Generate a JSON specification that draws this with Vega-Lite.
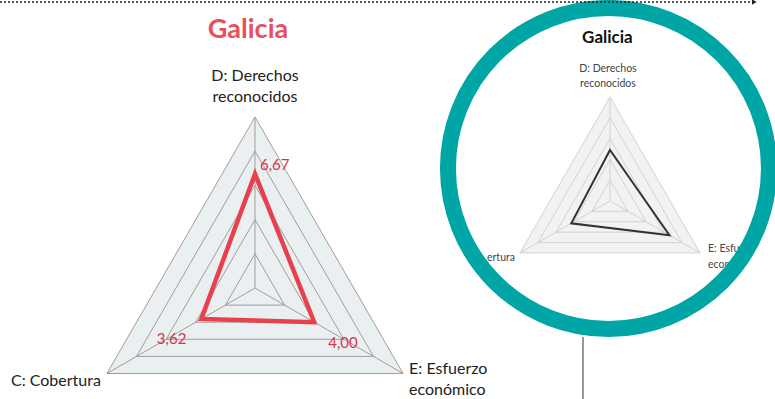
{
  "$schema": "https://vega.github.io/schema/vega-lite/v6.json",
  "width": 775,
  "height": 399,
  "autosize": {"type": "none"},
  "padding": 0,
  "background": "white",
  "config": {"view": {"stroke": null}, "text": {"font": "Lato"}},
  "datasets": {
    "rings": [
      {"chart": "main", "value": 2, "k": 0}, {"chart": "main", "value": 2, "k": 1}, {"chart": "main", "value": 2, "k": 2},
      {"chart": "main", "value": 4, "k": 0}, {"chart": "main", "value": 4, "k": 1}, {"chart": "main", "value": 4, "k": 2},
      {"chart": "main", "value": 6, "k": 0}, {"chart": "main", "value": 6, "k": 1}, {"chart": "main", "value": 6, "k": 2},
      {"chart": "main", "value": 8, "k": 0}, {"chart": "main", "value": 8, "k": 1}, {"chart": "main", "value": 8, "k": 2},
      {"chart": "main", "value": 10, "k": 0}, {"chart": "main", "value": 10, "k": 1}, {"chart": "main", "value": 10, "k": 2},
      {"chart": "small", "value": 2, "k": 0}, {"chart": "small", "value": 2, "k": 1}, {"chart": "small", "value": 2, "k": 2},
      {"chart": "small", "value": 4, "k": 0}, {"chart": "small", "value": 4, "k": 1}, {"chart": "small", "value": 4, "k": 2},
      {"chart": "small", "value": 6, "k": 0}, {"chart": "small", "value": 6, "k": 1}, {"chart": "small", "value": 6, "k": 2},
      {"chart": "small", "value": 8, "k": 0}, {"chart": "small", "value": 8, "k": 1}, {"chart": "small", "value": 8, "k": 2},
      {"chart": "small", "value": 10, "k": 0}, {"chart": "small", "value": 10, "k": 1}, {"chart": "small", "value": 10, "k": 2}
    ],
    "axes": [
      {"chart": "main", "k": 0, "value": 10, "name": "D: Derechos\nreconocidos"},
      {"chart": "main", "k": 1, "value": 10, "name": "E: Esfuerzo\neconómico"},
      {"chart": "main", "k": 2, "value": 10, "name": "C: Cobertura"},
      {"chart": "small", "k": 0, "value": 10, "name": "D: Derechos\nreconocidos"},
      {"chart": "small", "k": 1, "value": 10, "name": "E: Esfu\neconó"},
      {"chart": "small", "k": 2, "value": 10, "name": "ertura"}
    ],
    "scores": [
      {"chart": "main", "axis": "D", "k": 0, "value": 6.67, "label": "6,67"},
      {"chart": "main", "axis": "E", "k": 1, "value": 4.0, "label": "4,00"},
      {"chart": "main", "axis": "C", "k": 2, "value": 3.62, "label": "3,62"},
      {"chart": "small", "axis": "D", "k": 0, "value": 4.9, "label": ""},
      {"chart": "small", "axis": "E", "k": 1, "value": 6.6, "label": ""},
      {"chart": "small", "axis": "C", "k": 2, "value": 4.3, "label": ""}
    ],
    "titles": [
      {"chart": "main", "t": "Galicia"},
      {"chart": "small", "t": "Galicia"}
    ]
  },
  "encoding": {
    "x": {"field": "x", "type": "quantitative", "scale": {"domain": [-14.912, 30.409], "nice": false, "zero": false}, "axis": null},
    "y": {"field": "y", "type": "quantitative", "scale": {"domain": [-6.491, 16.842], "nice": false, "zero": false}, "axis": null}
  },
  "layer": [
    {
      "data": {"name": "rings"},
      "transform": [
        {"filter": "datum.chart == 'main' && datum.value == 10"},
        {"calculate": "datum.value * sin(datum.k * 2 * PI / 3)", "as": "x"},
        {"calculate": "datum.value * cos(datum.k * 2 * PI / 3)", "as": "y"}
      ],
      "mark": {"type": "line", "interpolate": "linear-closed", "fill": "#eaeff1", "stroke": null},
      "encoding": {"order": {"field": "k"}}
    },
    {
      "data": {"name": "rings"},
      "transform": [
        {"filter": "datum.chart == 'small' && datum.value == 10"},
        {"calculate": "20.76 + 0.608 * datum.value * sin(datum.k * 2 * PI / 3)", "as": "x"},
        {"calculate": "5.09 + 0.608 * datum.value * cos(datum.k * 2 * PI / 3)", "as": "y"}
      ],
      "mark": {"type": "line", "interpolate": "linear-closed", "fill": "#f2f2f2", "stroke": null},
      "encoding": {"order": {"field": "k"}}
    },
    {
      "data": {"name": "rings"},
      "transform": [
        {"calculate": "datum.chart == 'main' ? 0 : 20.76", "as": "cx"},
        {"calculate": "datum.chart == 'main' ? 0 : 5.09", "as": "cy"},
        {"calculate": "datum.chart == 'main' ? 1 : 0.608", "as": "s"},
        {"calculate": "datum.cx + datum.s * datum.value * sin(datum.k * 2 * PI / 3)", "as": "x"},
        {"calculate": "datum.cy + datum.s * datum.value * cos(datum.k * 2 * PI / 3)", "as": "y"}
      ],
      "mark": {"type": "line", "interpolate": "linear-closed", "strokeWidth": 1},
      "encoding": {
        "order": {"field": "k"},
        "detail": {"field": "value", "type": "nominal"},
        "color": {"field": "chart", "type": "nominal", "scale": {"domain": ["main", "small"], "range": ["#a59c98", "#d2d2d2"]}, "legend": null}
      }
    },
    {
      "data": {"name": "axes"},
      "transform": [
        {"calculate": "datum.chart == 'main' ? 0 : 20.76", "as": "cx"},
        {"calculate": "datum.chart == 'main' ? 0 : 5.09", "as": "cy"},
        {"calculate": "datum.chart == 'main' ? 1 : 0.608", "as": "s"},
        {"calculate": "datum.cx + datum.s * datum.value * sin(datum.k * 2 * PI / 3)", "as": "x"},
        {"calculate": "datum.cy + datum.s * datum.value * cos(datum.k * 2 * PI / 3)", "as": "y"}
      ],
      "mark": {"type": "rule", "strokeWidth": 1},
      "encoding": {
        "x2": {"field": "cx"},
        "y2": {"field": "cy"},
        "color": {"field": "chart", "type": "nominal", "scale": {"domain": ["main", "small"], "range": ["#a59c98", "#d2d2d2"]}, "legend": null}
      }
    },
    {
      "data": {"name": "scores"},
      "transform": [
        {"filter": "datum.chart == 'main'"},
        {"calculate": "datum.value * sin(datum.k * 2 * PI / 3)", "as": "x"},
        {"calculate": "datum.value * cos(datum.k * 2 * PI / 3)", "as": "y"}
      ],
      "mark": {"type": "line", "interpolate": "linear-closed", "color": "#e8404c", "strokeWidth": 4.5},
      "encoding": {"order": {"field": "k"}}
    },
    {
      "data": {"name": "scores"},
      "transform": [
        {"filter": "datum.chart == 'small'"},
        {"calculate": "20.76 + 0.608 * datum.value * sin(datum.k * 2 * PI / 3)", "as": "x"},
        {"calculate": "5.09 + 0.608 * datum.value * cos(datum.k * 2 * PI / 3)", "as": "y"}
      ],
      "mark": {"type": "line", "interpolate": "linear-closed", "color": "#333333", "strokeWidth": 2},
      "encoding": {"order": {"field": "k"}}
    },
    {
      "data": {"name": "scores"},
      "transform": [
        {"filter": "datum.chart == 'main' && datum.k == 0"},
        {"calculate": "datum.value * sin(datum.k * 2 * PI / 3)", "as": "x"},
        {"calculate": "datum.value * cos(datum.k * 2 * PI / 3)", "as": "y"}
      ],
      "mark": {"type": "text", "align": "left", "baseline": "alphabetic", "dx": 5, "dy": -4, "fontSize": 15, "color": "#d63447"},
      "encoding": {"text": {"field": "label"}}
    },
    {
      "data": {"name": "scores"},
      "transform": [
        {"filter": "datum.chart == 'main' && datum.k == 1"},
        {"calculate": "datum.value * sin(datum.k * 2 * PI / 3)", "as": "x"},
        {"calculate": "datum.value * cos(datum.k * 2 * PI / 3)", "as": "y"}
      ],
      "mark": {"type": "text", "align": "left", "baseline": "alphabetic", "dx": 14, "dy": 26, "fontSize": 15, "color": "#d63447"},
      "encoding": {"text": {"field": "label"}}
    },
    {
      "data": {"name": "scores"},
      "transform": [
        {"filter": "datum.chart == 'main' && datum.k == 2"},
        {"calculate": "datum.value * sin(datum.k * 2 * PI / 3)", "as": "x"},
        {"calculate": "datum.value * cos(datum.k * 2 * PI / 3)", "as": "y"}
      ],
      "mark": {"type": "text", "align": "right", "baseline": "alphabetic", "dx": -15, "dy": 25, "fontSize": 15, "color": "#d63447"},
      "encoding": {"text": {"field": "label"}}
    },
    {
      "data": {"name": "axes"},
      "transform": [
        {"filter": "datum.chart == 'main' && datum.k == 0"},
        {"calculate": "datum.value * sin(datum.k * 2 * PI / 3)", "as": "x"},
        {"calculate": "datum.value * cos(datum.k * 2 * PI / 3)", "as": "y"}
      ],
      "mark": {"type": "text", "align": "center", "baseline": "alphabetic", "dy": -36, "fontSize": 16, "lineHeight": 21, "lineBreak": "\n", "color": "#222222"},
      "encoding": {"text": {"field": "name"}}
    },
    {
      "data": {"name": "axes"},
      "transform": [
        {"filter": "datum.chart == 'main' && datum.k == 1"},
        {"calculate": "datum.value * sin(datum.k * 2 * PI / 3)", "as": "x"},
        {"calculate": "datum.value * cos(datum.k * 2 * PI / 3)", "as": "y"}
      ],
      "mark": {"type": "text", "align": "left", "baseline": "alphabetic", "dx": 6, "dy": 0, "fontSize": 16, "lineHeight": 21, "lineBreak": "\n", "color": "#222222"},
      "encoding": {"text": {"field": "name"}}
    },
    {
      "data": {"name": "axes"},
      "transform": [
        {"filter": "datum.chart == 'main' && datum.k == 2"},
        {"calculate": "datum.value * sin(datum.k * 2 * PI / 3)", "as": "x"},
        {"calculate": "datum.value * cos(datum.k * 2 * PI / 3)", "as": "y"}
      ],
      "mark": {"type": "text", "align": "right", "baseline": "alphabetic", "dx": -6, "dy": 12, "fontSize": 16, "color": "#222222"},
      "encoding": {"text": {"field": "name"}}
    },
    {
      "data": {"name": "axes"},
      "transform": [
        {"filter": "datum.chart == 'small' && datum.k == 0"},
        {"calculate": "20.76 + 0.608 * datum.value * sin(datum.k * 2 * PI / 3)", "as": "x"},
        {"calculate": "5.09 + 0.608 * datum.value * cos(datum.k * 2 * PI / 3)", "as": "y"}
      ],
      "mark": {"type": "text", "align": "center", "baseline": "alphabetic", "dx": -2, "dy": -25, "fontSize": 10.5, "lineHeight": 15, "lineBreak": "\n", "color": "#444444"},
      "encoding": {"text": {"field": "name"}}
    },
    {
      "data": {"name": "axes"},
      "transform": [
        {"filter": "datum.chart == 'small' && datum.k == 1"},
        {"calculate": "20.76 + 0.608 * datum.value * sin(datum.k * 2 * PI / 3)", "as": "x"},
        {"calculate": "5.09 + 0.608 * datum.value * cos(datum.k * 2 * PI / 3)", "as": "y"}
      ],
      "mark": {"type": "text", "align": "left", "baseline": "alphabetic", "dx": 8, "dy": -1, "fontSize": 10.5, "lineHeight": 16, "lineBreak": "\n", "color": "#444444"},
      "encoding": {"text": {"field": "name"}}
    },
    {
      "data": {"name": "axes"},
      "transform": [
        {"filter": "datum.chart == 'small' && datum.k == 2"},
        {"calculate": "20.76 + 0.608 * datum.value * sin(datum.k * 2 * PI / 3)", "as": "x"},
        {"calculate": "5.09 + 0.608 * datum.value * cos(datum.k * 2 * PI / 3)", "as": "y"}
      ],
      "mark": {"type": "text", "align": "right", "baseline": "alphabetic", "dx": -5, "dy": 8, "fontSize": 10.5, "color": "#444444"},
      "encoding": {"text": {"field": "name"}}
    },
    {
      "data": {"name": "titles"},
      "transform": [
        {"filter": "datum.chart == 'main'"},
        {"calculate": "-0.41", "as": "x"},
        {"calculate": "14.62", "as": "y"}
      ],
      "mark": {"type": "text", "align": "center", "baseline": "alphabetic", "fontSize": 27, "fontWeight": "bold", "color": "#e8505b"},
      "encoding": {"text": {"field": "t"}}
    },
    {
      "data": {"name": "titles"},
      "transform": [
        {"filter": "datum.chart == 'small'"},
        {"calculate": "20.61", "as": "x"},
        {"calculate": "14.33", "as": "y"}
      ],
      "mark": {"type": "text", "align": "center", "baseline": "alphabetic", "fontSize": 17, "fontWeight": "bold", "color": "#111111"},
      "encoding": {"text": {"field": "t"}}
    },
    {
      "data": {"name": "titles"},
      "transform": [
        {"filter": "datum.chart == 'small'"},
        {"calculate": "20.67", "as": "x"},
        {"calculate": "6.99", "as": "y"}
      ],
      "mark": {"type": "point", "shape": "circle", "filled": false, "stroke": "#00a5a6", "strokeWidth": 16, "size": 103041, "opacity": 1}
    },
    {
      "data": {"name": "titles"},
      "transform": [
        {"filter": "datum.chart == 'main'"},
        {"calculate": "-14.912", "as": "x"},
        {"calculate": "29.06", "as": "x2"},
        {"calculate": "16.725", "as": "y"}
      ],
      "mark": {"type": "rule", "strokeDash": [2, 2], "strokeWidth": 1.5, "color": "#222222"},
      "encoding": {"x2": {"field": "x2"}}
    },
    {
      "data": {"name": "titles"},
      "transform": [
        {"filter": "datum.chart == 'main'"},
        {"calculate": "29.2", "as": "x"},
        {"calculate": "16.725", "as": "y"}
      ],
      "mark": {"type": "point", "shape": "triangle-right", "filled": true, "color": "#222222", "size": 30, "opacity": 1}
    },
    {
      "data": {"name": "titles"},
      "transform": [
        {"filter": "datum.chart == 'small'"},
        {"calculate": "19.18", "as": "x"},
        {"calculate": "-2.865", "as": "y"},
        {"calculate": "-6.491", "as": "y2"}
      ],
      "mark": {"type": "rule", "strokeWidth": 1.5, "color": "#777777"},
      "encoding": {"y2": {"field": "y2"}}
    }
  ]
}
